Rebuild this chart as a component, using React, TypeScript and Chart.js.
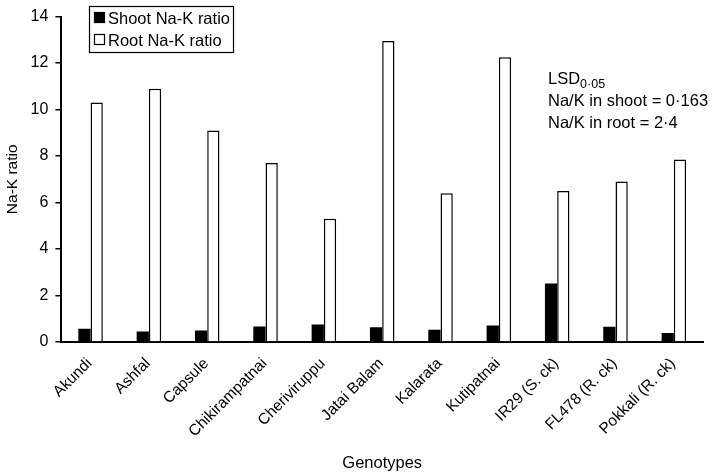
import React, { useEffect, useRef } from "react";
import { Chart, registerables } from "chart.js";

Chart.register(...registerables);

const genotypes = [
  "Akundi",
  "Ashfal",
  "Capsule",
  "Chikirampatnai",
  "Cheriviruppu",
  "Jatai Balam",
  "Kalarata",
  "Kutipatnai",
  "IR29 (S. ck)",
  "FL478 (R. ck)",
  "Pokkali (R. ck)",
];
const shootNaK = [0.57, 0.45, 0.49, 0.66, 0.75, 0.63, 0.52, 0.71, 2.52, 0.65, 0.38];
const rootNaK = [10.3, 10.9, 9.1, 7.7, 5.3, 12.95, 6.4, 12.25, 6.5, 6.9, 7.85];
const yTicks = [0, 2, 4, 6, 8, 10, 12, 14];
const seriesNames = ["Shoot Na-K ratio", "Root Na-K ratio"];
const lsdLines = ["Na/K in shoot = 0·163", "Na/K in root = 2·4"];

const FONT = "'Liberation Sans', Arial, Helvetica, sans-serif";

const overlayPlugin = {
  id: "overlay",
  afterDraw(chart: any) {
    const ctx = chart.ctx as CanvasRenderingContext2D;
    ctx.save();
    // legend box
    const lx = 89, ly = 6, lw = 144, lh = 46;
    ctx.strokeStyle = "#000";
    ctx.lineWidth = 1.2;
    ctx.strokeRect(lx + 0.5, ly + 0.5, lw, lh);
    ctx.font = `16.5px ${FONT}`;
    ctx.textBaseline = "middle";
    ctx.textAlign = "left";
    chart.data.datasets.forEach((ds: any, i: number) => {
      const cy = ly + 12 + i * 22;
      ctx.fillStyle = ds.backgroundColor;
      ctx.fillRect(lx + 5, cy - 6, 11, 11);
      ctx.strokeStyle = "#000";
      ctx.lineWidth = 1.2;
      ctx.strokeRect(lx + 5.5, cy - 5.5, 10, 10);
      ctx.fillStyle = "#000";
      ctx.fillText(ds.label, lx + 19, cy + 1);
    });
    // LSD annotation
    const ax = 548;
    ctx.textBaseline = "alphabetic";
    ctx.font = `16.5px ${FONT}`;
    ctx.fillText("LSD", ax, 84);
    const w = ctx.measureText("LSD").width;
    ctx.font = `12.5px ${FONT}`;
    ctx.fillText("0·05", ax + w, 88);
    ctx.font = `16.5px ${FONT}`;
    lsdLines.forEach((t, i) => ctx.fillText(t, ax, 106 + i * 22));
    ctx.restore();
  },
};

export default function App() {
  const ref = useRef<HTMLCanvasElement>(null);
  useEffect(() => {
    if (!ref.current) return;
    const chart = new Chart(ref.current, {
      type: "bar",
      data: {
        labels: genotypes,
        datasets: [
          {
            label: seriesNames[0],
            data: shootNaK,
            backgroundColor: "#000",
            borderColor: "#000",
            borderWidth: 0,
          },
          {
            label: seriesNames[1],
            data: rootNaK,
            backgroundColor: "#fff",
            borderColor: "#000",
            borderWidth: 1.5,
          },
        ],
      },
      options: {
        responsive: false,
        animation: false,
        layout: { padding: { top: 10, right: 10, bottom: 0, left: 3 } },
        plugins: {
          legend: { display: false },
          tooltip: { enabled: false },
        },
        datasets: {
          bar: { categoryPercentage: 0.42, barPercentage: 1 },
        },
        scales: {
          x: {
            grid: { display: true, drawOnChartArea: false, drawTicks: false },
            border: { display: true, color: "#000", width: 2 },
            ticks: {
              color: "#000",
              font: { family: FONT, size: 15.5 },
              minRotation: 45,
              maxRotation: 45,
              padding: 12.5,
              labelOffset: -1,
            },
            title: {
              display: true,
              text: "Genotypes",
              color: "#000",
              font: { family: FONT, size: 16.5 },
              padding: { top: 0, bottom: 0 },
            },
          },
          y: {
            min: 0,
            max: 14,
            afterBuildTicks: (axis: any) => {
              axis.ticks = yTicks.map((v) => ({ value: v }));
            },
            grid: {
              display: true,
              drawOnChartArea: false,
              drawTicks: true,
              tickLength: 6,
              color: "#000",
              lineWidth: 1.5,
            },
            border: { display: true, color: "#000", width: 2 },
            ticks: {
              color: "#000",
              font: { family: FONT, size: 16 },
              padding: 7,
            },
            title: {
              display: true,
              text: "Na-K ratio",
              color: "#000",
              font: { family: FONT, size: 15.5 },
              padding: { top: 0, bottom: 2 },
            },
          },
        },
      },
      plugins: [overlayPlugin],
    });
    return () => chart.destroy();
  }, []);
  return (
    <div style={{ position: "fixed", left: 0, top: 0, width: 713, height: 473, background: "#fff" }}>
      <canvas ref={ref} width={713} height={473} />
    </div>
  );
}
